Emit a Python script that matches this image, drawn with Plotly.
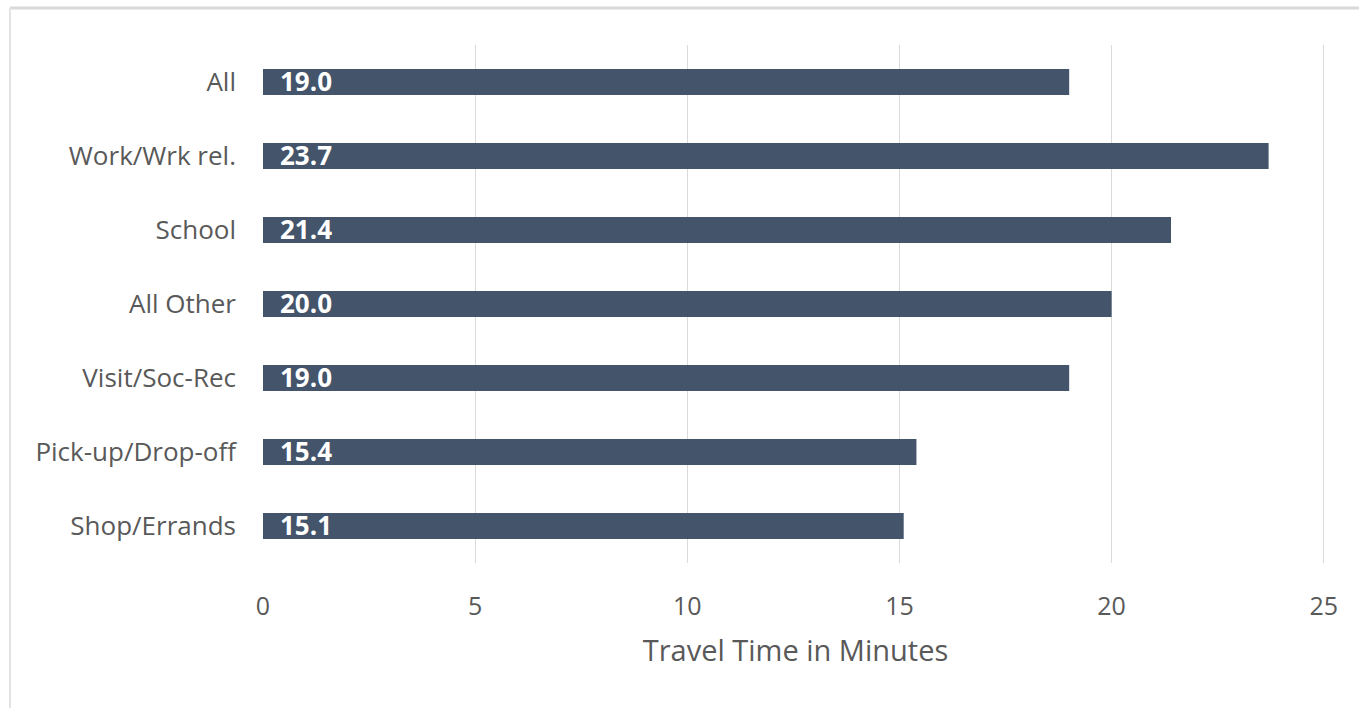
import plotly.graph_objects as go

categories = ["All", "Work/Wrk rel.", "School", "All Other", "Visit/Soc-Rec", "Pick-up/Drop-off", "Shop/Errands"]
values = [19.0, 23.7, 21.4, 20.0, 19.0, 15.4, 15.1]
x_ticks = [0, 5, 10, 15, 20, 25]

W, H = 1359, 708
ml, mr, mt, mb = 263, 31, 45, 145
pw, ph = W - ml - mr, H - mt - mb
FONT = "Open Sans, Liberation Sans, sans-serif"

fig = go.Figure()
fig.add_trace(go.Bar(
    y=categories, x=values, orientation="h",
    marker=dict(color="#44546A", line=dict(width=0)),
    width=0.35, hoverinfo="x+y",
))

for c, v in zip(categories, values):
    fig.add_annotation(x=0, y=c, xref="x", yref="y", text=f"<b>{v:.1f}</b>",
                       showarrow=False, xanchor="left", yanchor="middle", xshift=15, yshift=1,
                       font=dict(family=FONT, size=26, color="white"))

# outer chart border (top and left visible, right/bottom run off the page)
bx0 = (10 - ml) / pw
by1 = (H - mb - 8) / ph
fig.add_shape(type="line", xref="paper", yref="paper", x0=bx0, x1=1.2, y0=by1, y1=by1,
              line=dict(color="#D9D9D9", width=3))
fig.add_shape(type="line", xref="paper", yref="paper", x0=bx0, x1=bx0, y0=by1, y1=-0.5,
              line=dict(color="#E3E3E3", width=2))

fig.update_layout(
    width=W, height=H,
    margin=dict(l=ml, r=mr, t=mt, b=mb),
    paper_bgcolor="white", plot_bgcolor="white",
    showlegend=False,
    font=dict(family=FONT, color="#595959"),
    xaxis=dict(range=[0, 25.1], tickvals=x_ticks, showgrid=True, gridcolor="#D9D9D9", gridwidth=1,
               zeroline=False, showline=False, ticks="", tickfont=dict(size=25, color="#595959"),
               ticklabelstandoff=26,
               title=dict(text="Travel Time in Minutes", font=dict(size=29, color="#595959"), standoff=19)),
    yaxis=dict(autorange="reversed", showgrid=False, zeroline=False, showline=False, ticks="",
               tickfont=dict(size=26, color="#595959"), ticklabelstandoff=26),
)

fig.write_html("out.html")
